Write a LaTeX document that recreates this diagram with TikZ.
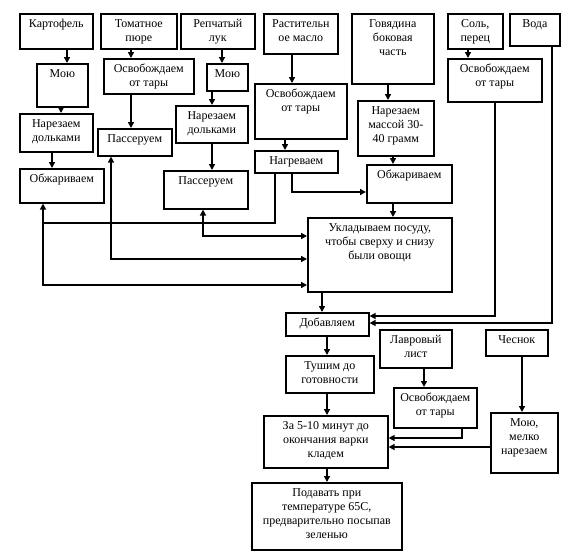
\documentclass[tikz,border=0pt]{standalone}
\usepackage{fontspec}
\setmainfont{Liberation Serif}
\usetikzlibrary{arrows.meta}
\newcommand{\blkt}[1]{\begin{tabular}[t]{@{}c@{}}#1\end{tabular}}
\begin{document}
\begin{tikzpicture}[x=1pt, y=-1pt, line width=1.6pt, line join=miter, >={Triangle[length=6pt,width=6pt]},
	font=\fontsize{12}{14}\selectfont,
	blk/.style 2 args={draw, anchor=north west, inner xsep=1pt, inner ysep=2pt, minimum width=#1, text height=12pt, text depth=#2}]
	\useasboundingbox (0,0) rectangle (584,555);
	\node[blk={73pt}{19pt}] (kart) at (19,13) {Картофель};
	\node[blk={76pt}{19pt}] (tomat) at (100,13) {\blkt{Томатное\\пюре}};
	\node[blk={74pt}{19pt}] (luk) at (180,13) {\blkt{Репчатый\\лук}};
	\node[blk={74pt}{24pt}] (maslo) at (263,13) {\blkt{Растительн\\ое масло}};
	\node[blk={82pt}{54pt}] (govyad) at (351,13) {\blkt{Говядина\\боковая\\часть}};
	\node[blk={55pt}{19pt}] (sol) at (447,13) {\blkt{Соль,\\перец}};
	\node[blk={50pt}{16pt}] (voda) at (509,13) {Вода};
	\node[blk={51pt}{27pt}] (kartMoy) at (36,63) {Мою};
	\node[blk={90pt}{19pt}] (tomatOsv) at (103,58) {\blkt{Освобождаем\\от тары}};
	\node[blk={41pt}{11pt}] (lukMoy) at (206,63) {Мою};
	\node[blk={92pt}{39pt}] (masloOsv) at (254,83) {\blkt{Освобождаем\\от тары}};
	\node[blk={76pt}{39pt}] (govyadNar) at (357,100) {\blkt{Нарезаем\\массой 30-\\40 грамм}};
	\node[blk={94pt}{27pt}] (solOsv) at (447,58) {\blkt{Освобождаем\\от тары}};
	\node[blk={73pt}{22pt}] (kartNar) at (19,113) {\blkt{Нарезаем\\дольками}};
	\node[blk={74pt}{11pt}] (tomatPas) at (97,128) {Пассеруем};
	\node[blk={72pt}{21pt}] (lukNar) at (175,105) {\blkt{Нарезаем\\дольками}};
	\node[blk={83pt}{6pt}] (masloNagr) at (254,150) {Нагреваем};
	\node[blk={84pt}{18pt}] (kartObzh) at (19,168) {Обжариваем};
	\node[blk={84pt}{22pt}] (lukPas) at (163,170) {Пассеруем};
	\node[blk={85pt}{22pt}] (govyadObzh) at (366,164) {Обжариваем};
	\node[blk={144pt}{58pt}] (ukl) at (307,217) {\blkt{Укладываем посуду,\\чтобы сверху и снизу\\были овощи}};
	\node[blk={83pt}{7pt}] (dobav) at (285,312) {Добавляем};
	\node[blk={88pt}{21pt}] (tush) at (285,355) {\blkt{Тушим до\\готовности}};
	\node[blk={72pt}{22pt}] (lavr) at (379,329) {\blkt{Лавровый\\лист}};
	\node[blk={62pt}{10pt}] (chesnok) at (485,329) {Чеснок};
	\node[blk={83pt}{24pt}] (lavrOsv) at (393,387) {\blkt{Освобождаем\\от тары}};
	\node[blk={67pt}{44pt}] (chesnokMoy) at (490,412) {\blkt{Мою,\\мелко\\нарезаем}};
	\node[blk={124pt}{36pt}] (zakl) at (263,415) {\blkt{За 5-10 минут до\\окончания варки\\кладем}};
	\node[blk={150pt}{51pt}] (podav) at (251,482) {\blkt{Подавать при\\температуре 65С,\\предварительно посыпав\\зеленью}};
	\draw[->] (67,0 |- kart.south) -- (67,0 |- kartMoy.north);
	\draw[->] (61,0 |- kartMoy.south) -- (61,0 |- kartNar.north);
	\draw[->] (52,0 |- kartNar.south) -- (52,0 |- kartObzh.north);
	\draw[->] (131,0 |- tomat.south) -- (131,0 |- tomatOsv.north);
	\draw[->] (131,0 |- tomatOsv.south) -- (131,0 |- tomatPas.north);
	\draw[->] (222,0 |- luk.south) -- (222,0 |- lukMoy.north);
	\draw[->] (212,0 |- lukMoy.south) -- (212,0 |- lukNar.north);
	\draw[->] (212,0 |- lukNar.south) -- (212,0 |- lukPas.north);
	\draw[->] (292,0 |- maslo.south) -- (292,0 |- masloOsv.north);
	\draw[->] (285,0 |- masloOsv.south) -- (285,0 |- masloNagr.north);
	\draw[->] (388,0 |- govyad.south) -- (388,0 |- govyadNar.north);
	\draw[->] (393,0 |- govyadNar.south) -- (393,0 |- govyadObzh.north);
	\draw[->] (468,0 |- sol.south) -- (468,0 |- solOsv.north);
	\draw[->] (292,0 |- masloNagr.south) |- (govyadObzh.west |- 0,192);
	\draw (275,0 |- masloNagr.south) |- (43,223);
	\draw[<->] (43,0 |- kartObzh.south) |- (ukl.west |- 0,285);
	\draw[<->] (111,0 |- tomatPas.south) |- (ukl.west |- 0,259);
	\draw[<->] (203,0 |- lukPas.south) |- (ukl.west |- 0,236);
	\draw[->] (393,0 |- govyadObzh.south) -- (393,0 |- ukl.north);
	\draw[->] (322,0 |- ukl.south) -- (322,0 |- dobav.north);
	\draw[->] (495,0 |- solOsv.south) |- (dobav.east |- 0,316);
	\draw[->] (552,0 |- voda.south) |- (dobav.east |- 0,323);
	\draw[->] (327,0 |- dobav.south) -- (327,0 |- tush.north);
	\draw[->] (327,0 |- tush.south) -- (327,0 |- zakl.north);
	\draw[->] (424,0 |- lavr.south) -- (424,0 |- lavrOsv.north);
	\draw[->] (462,0 |- lavrOsv.south) |- (zakl.east |- 0,438);
	\draw[->] (522,0 |- chesnok.south) -- (522,0 |- chesnokMoy.north);
	\draw[->] (chesnokMoy.west |- 0,447) -- (zakl.east |- 0,447);
	\draw[->] (327,0 |- zakl.south) -- (327,0 |- podav.north);
\end{tikzpicture}
\end{document}
